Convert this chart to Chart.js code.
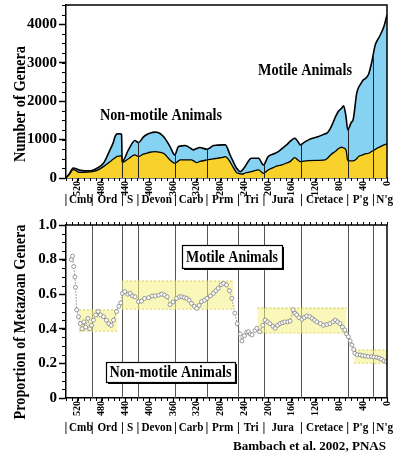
<!DOCTYPE html>
<html>
<head>
<meta charset="utf-8">
<script src="https://cdn.jsdelivr.net/npm/chart.js@4.4.0/dist/chart.umd.min.js"></script>
<style>
  html, body { margin: 0; padding: 0; background: #fff; }
  #wrap { position: relative; width: 398px; height: 454px; }
  #top { position: absolute; left: 0; top: 0; }
  #bot { position: absolute; left: 0; top: 215px; }
</style>
</head>
<body>
<div id="wrap">
  <canvas id="top" width="398" height="210"></canvas>
  <canvas id="bot" width="398" height="239"></canvas>
</div>
<script>
// ages in Ma
var ages = [540, 534, 528, 524, 518, 510, 500, 494, 485, 477, 466, 461, 457, 454, 449, 446.5, 445.5,
    435, 424, 418, 410, 404, 399, 390, 387, 376, 365, 357, 351, 348, 340, 329, 326, 320, 315, 303,
    292, 286, 275, 272, 264, 261, 253, 250, 247, 242, 239, 228, 216, 208, 200, 190, 183, 177, 169,
    163, 155, 150, 146, 140, 132, 115, 104, 101, 95, 90, 87, 82, 76, 73, 69, 66, 60, 57, 51, 48,
    45, 40, 37, 31, 26, 20, 17, 12, 5, 0];
var totalGenera = [0, 120, 260, 250, 205, 190, 185, 209, 280, 383, 731, 900, 1096, 1148, 1150, 1130, 426,
    731, 974, 922, 1062, 1130, 1166, 1192, 1190, 1079, 818, 600, 818, 830, 844, 760, 731, 770, 792, 749,
    844, 855, 861, 861, 600, 500, 253, 200, 165, 230, 295, 513, 513, 339, 556, 630, 687, 760, 861,
    950, 1035, 950, 861, 920, 992, 1079, 1150, 1166, 1300, 1470, 1580, 1731, 1820, 1880, 1600, 1253, 1450, 1514, 2200, 2350,
    2430, 2550, 2580, 2700, 2990, 3450, 3560, 3700, 3950, 4250];
var nonMotileGenera = [0, 100, 220, 200, 145, 150, 160, 170, 220, 295, 420, 487, 530, 560, 574, 580, 400,
    500, 600, 556, 620, 644, 670, 687, 680, 644, 470, 383, 440, 470, 470, 470, 450, 400, 430, 470,
    500, 513, 540, 556, 420, 339, 140, 122, 110, 104, 130, 165, 209, 122, 209, 280, 320, 339, 390,
    426, 530, 470, 426, 440, 452, 460, 470, 500, 600, 660, 687, 760, 800, 780, 730, 452, 444, 444, 500, 556,
    580, 610, 630, 644, 690, 740, 775, 810, 860, 887];

// lower panel: share of non-motile genera
var shareAges = [531, 529, 527, 525, 524, 522, 519, 516, 513, 510, 507, 503, 500, 497, 494, 490, 486, 482,
    477, 472, 468, 464, 460, 455, 451, 448, 445, 441, 436, 432, 428, 424, 418, 413, 408, 401, 395, 390,
    384, 379, 374, 370, 365, 360, 354, 349, 345, 341, 337, 333, 329, 324, 320, 316, 312, 307, 303, 297,
    292, 288, 284, 279, 275, 270, 265, 261, 256, 252, 247, 244, 240, 236, 233, 230, 227, 222, 219, 214,
    209, 205, 201, 197, 192, 188, 184, 180, 176, 172, 167, 163, 158, 155, 152, 148, 143, 139, 135, 130,
    126, 122, 118, 112, 107, 101, 96, 91, 87, 83, 79, 75, 71, 68, 65, 62, 59, 56, 54, 50, 45, 41, 37,
    32, 26, 22, 17, 13, 9, 5, 1];
var nonMotileShare = [0.80, 0.82, 0.76, 0.70, 0.64, 0.51, 0.47, 0.43, 0.40, 0.44, 0.41, 0.46, 0.40, 0.42, 0.45, 0.48, 0.50, 0.48,
    0.47, 0.45, 0.43, 0.42, 0.45, 0.50, 0.53, 0.55, 0.605, 0.615, 0.60, 0.605, 0.59, 0.585, 0.557, 0.56, 0.575, 0.58, 0.59, 0.59,
    0.595, 0.60, 0.595, 0.585, 0.54, 0.555, 0.576, 0.585, 0.585, 0.58, 0.576, 0.565, 0.547, 0.53, 0.518, 0.535, 0.557, 0.565, 0.576, 0.59,
    0.605, 0.62, 0.634, 0.655, 0.663, 0.653, 0.62, 0.576, 0.49, 0.43, 0.37, 0.33, 0.36, 0.38, 0.383, 0.37, 0.365, 0.39, 0.403, 0.383,
    0.42, 0.45, 0.44, 0.43, 0.415, 0.403, 0.42, 0.43, 0.435, 0.44, 0.44, 0.445, 0.51, 0.49, 0.48, 0.465, 0.455, 0.465, 0.474, 0.47,
    0.46, 0.45, 0.44, 0.43, 0.42, 0.425, 0.43, 0.44, 0.45, 0.44, 0.43, 0.41, 0.393, 0.37, 0.354, 0.33, 0.306, 0.28, 0.258, 0.25, 0.249, 0.245, 0.243,
    0.24, 0.239, 0.237, 0.235, 0.23, 0.224, 0.215, 0.21];

// shaded bands (Ma from, Ma to, low, high)
var bandFrom = [518, 446, 218, 55];
var bandTo = [454, 259, 68, 0];
var bandLow = [0.387, 0.514, 0.376, 0.202];
var bandHigh = [0.509, 0.676, 0.52, 0.277];

var ageTicks = [520, 480, 440, 400, 360, 320, 280, 240, 200, 160, 120, 80, 40, 0];
var genusTicks = [0, 1000, 2000, 3000, 4000];
var shareTicks = [0, 0.2, 0.4, 0.6, 0.8, 1.0];

var boundariesTop = [445, 419, 356, 303, 207, 144, 66, 23];
var boundariesBottom = [496, 445, 419, 356, 303, 250, 207, 144, 66, 23];
var periodNames = ['Cmb', 'Ord', 'S', 'Devon', 'Carb', 'Prm', 'Tri', 'Jura', 'Cretace', "P'g", "N'g"];
var periodEdges = [540, 496, 445, 419, 356, 303, 250, 207, 144, 66, 23, 0];

var SERIF = '"Liberation Serif", "Times New Roman", serif';

function pts(xs, ys) {
    var out = [];
    for (var i = 0; i < xs.length; i++) {
        out.push({ x: xs[i], y: ys[i] });
    }
    return out;
}

function valueAt(xs, ys, age) {
    for (var i = 0; i < xs.length - 1; i++) {
        if (age <= xs[i] && age >= xs[i + 1]) {
            var t = (xs[i] - age) / (xs[i] - xs[i + 1]);
            return ys[i] + t * (ys[i + 1] - ys[i]);
        }
    }
    return 0;
}

// draw text squeezed horizontally (sx) or fitted to a width
function drawText(ctx, txt, x, y, font, align, sx) {
    ctx.save();
    ctx.font = font;
    ctx.fillStyle = '#000';
    ctx.textBaseline = 'middle';
    ctx.textAlign = align;
    ctx.translate(x, y);
    ctx.scale(sx, 1);
    ctx.fillText(txt, 0, 0);
    ctx.restore();
}

function fitText(ctx, txt, x, y, w, font, align) {
    ctx.save();
    ctx.font = font;
    var m = ctx.measureText(txt).width;
    ctx.restore();
    drawText(ctx, txt, x, y, font, align, w / m);
}

function vTitle(ctx, txt, x, y, h, font) {
    ctx.save();
    ctx.font = font;
    var m = ctx.measureText(txt).width;
    ctx.translate(x, y);
    ctx.rotate(-Math.PI / 2);
    ctx.scale(h / m, 1);
    ctx.fillStyle = '#000';
    ctx.textAlign = 'center';
    ctx.textBaseline = 'middle';
    ctx.fillText(txt, 0, 0);
    ctx.restore();
}

function periodRow(chart, yPos) {
    var ctx = chart.ctx, x = chart.scales.x;
    var font = 'bold 13px ' + SERIF;
    ctx.save();
    ctx.font = font;
    for (var i = 0; i < periodNames.length; i++) {
        var l = x.getPixelForValue(periodEdges[i]);
        var r = x.getPixelForValue(periodEdges[i + 1]);
        drawText(ctx, '|', l, yPos, font, 'center', 1);
        var w = ctx.measureText(periodNames[i]).width * 0.86;
        var c = Math.max((l + r) / 2, l + 3 + w / 2);
        drawText(ctx, periodNames[i], c, yPos, font, 'center', 0.86);
    }
    ctx.restore();
}

function minorTicks(chart, yStep, yMax, topTicks) {
    var ctx = chart.ctx, x = chart.scales.x, y = chart.scales.y, a = chart.chartArea;
    ctx.save();
    ctx.strokeStyle = '#000';
    ctx.lineWidth = 1;
    ctx.beginPath();
    for (var t = 0; t <= 540; t += 10) {
        var px = Math.round(x.getPixelForValue(t)) + 0.5;
        ctx.moveTo(px, a.bottom);
        ctx.lineTo(px, a.bottom + 3);
        if (topTicks) {
            ctx.moveTo(px, a.top);
            ctx.lineTo(px, a.top - 3);
        }
    }
    for (var v = 0; v <= yMax + 1e-9; v += yStep) {
        var py = Math.round(y.getPixelForValue(v)) + 0.5;
        ctx.moveTo(a.left, py);
        ctx.lineTo(a.left - 4, py);
    }
    ctx.stroke();
    // frame on top and right
    ctx.lineWidth = 1.5;
    ctx.beginPath();
    ctx.moveTo(a.left, a.top);
    ctx.lineTo(a.right, a.top);
    ctx.lineTo(a.right, a.bottom);
    ctx.stroke();
    ctx.restore();
}

function axisX(h) {
    return {
        type: 'linear', min: 0, max: 540, reverse: true,
        afterBuildTicks: function (s) { s.ticks = ageTicks.map(function (v) { return { value: v }; }); },
        ticks: { autoSkip: false, minRotation: 90, maxRotation: 90, padding: -1, color: '#000',
                 font: { family: SERIF, weight: 'bold', size: 10 } },
        grid: { drawOnChartArea: false, tickLength: 4, tickColor: '#000', tickWidth: 1.2 },
        border: { color: '#000', width: 1.5 },
        afterFit: function (s) { s.height = h; s.paddingLeft = 0; s.paddingRight = 0; }
    };
}

function axisY(min, max, list, cb) {
    return {
        min: min, max: max,
        afterBuildTicks: function (s) { s.ticks = list.map(function (v) { return { value: v }; }); },
        ticks: { padding: 2, color: '#000', font: { family: SERIF, weight: 'bold', size: 15 }, callback: cb },
        grid: { drawOnChartArea: false, tickLength: 7, tickColor: '#000', tickWidth: 1.5 },
        border: { color: '#000', width: 1.5 },
        afterFit: function (s) { s.width = 66; s.paddingTop = 0; s.paddingBottom = 0; }
    };
}

var topDecor = {
    id: 'topDecor',
    afterDatasetsDraw: function (chart) {
        var ctx = chart.ctx, x = chart.scales.x, y = chart.scales.y;
        ctx.save();
        ctx.strokeStyle = '#222';
        ctx.lineWidth = 1;
        boundariesTop.forEach(function (age) {
            var px = Math.round(x.getPixelForValue(age)) + 0.5;
            ctx.beginPath();
            ctx.moveTo(px, y.getPixelForValue(0));
            ctx.lineTo(px, y.getPixelForValue(valueAt(ages, totalGenera, age)));
            ctx.stroke();
        });
        ctx.restore();
    },
    afterDraw: function (chart) {
        var ctx = chart.ctx;
        minorTicks(chart, 250, 4500, false);
        periodRow(chart, 200);
        vTitle(ctx, 'Number of Genera', 21, 104, 116, 'bold 17px ' + SERIF);
        fitText(ctx, 'Non-motile Animals', 161, 116, 122, 'bold 17px ' + SERIF, 'center');
        fitText(ctx, 'Motile Animals', 305, 71, 94, 'bold 17px ' + SERIF, 'center');
    }
};

var botDecor = {
    id: 'botDecor',
    beforeDatasetsDraw: function (chart) {
        var ctx = chart.ctx, x = chart.scales.x, a = chart.chartArea;
        ctx.save();
        ctx.strokeStyle = '#555';
        ctx.lineWidth = 1;
        boundariesBottom.forEach(function (age) {
            var px = Math.round(x.getPixelForValue(age)) + 0.5;
            ctx.beginPath();
            ctx.moveTo(px, a.bottom);
            ctx.lineTo(px, a.top);
            ctx.stroke();
        });
        ctx.restore();
    },
    afterDraw: function (chart) {
        var ctx = chart.ctx;
        minorTicks(chart, 0.05, 1, true);
        periodRow(chart, 213);
        vTitle(ctx, 'Proportion of Metazoan Genera', 21, 107, 195, 'bold 17px ' + SERIF);
        var boxes = [[182, 30, 100, 23, 'Motile Animals', 92], [106, 147, 129, 20, 'Non-motile Animals', 122]];
        boxes.forEach(function (b) {
            ctx.save();
            ctx.fillStyle = '#000';
            ctx.fillRect(b[0] + 2, b[1] + 2, b[2], b[3]);
            ctx.fillStyle = '#fff';
            ctx.fillRect(b[0], b[1], b[2], b[3]);
            ctx.strokeStyle = '#000';
            ctx.lineWidth = 1.2;
            ctx.strokeRect(b[0] + 0.5, b[1] + 0.5, b[2], b[3]);
            ctx.restore();
            fitText(ctx, b[4], b[0] + b[2] / 2, b[1] + b[3] / 2 + 1, b[5], 'bold 17px ' + SERIF, 'center');
        });
        fitText(ctx, 'Bambach et al. 2002, PNAS', 386, 232, 153, 'bold 13px ' + SERIF, 'right');
    }
};

var common = {
    responsive: false,
    animation: false,
    events: [],
    plugins: { legend: { display: false }, tooltip: { enabled: false } }
};

new Chart(document.getElementById('top'), {
    type: 'line',
    data: {
        datasets: [
            { label: 'Non-motile', data: pts(ages, nonMotileGenera), borderColor: '#000', borderWidth: 1.3,
              backgroundColor: '#f8d22a', fill: 'origin', pointRadius: 0, cubicInterpolationMode: 'monotone' },
            { label: 'Total', data: pts(ages, totalGenera), borderColor: '#000', borderWidth: 1.6,
              backgroundColor: '#86d2f2', fill: 'origin', pointRadius: 0, cubicInterpolationMode: 'monotone' }
        ]
    },
    options: Object.assign({}, common, {
        layout: { padding: { top: 5, right: 11, bottom: 12, left: 0 } },
        scales: {
            x: axisX(20),
            y: axisY(0, 4500, genusTicks, function (v) { return v; })
        }
    }),
    plugins: [topDecor]
});

var botSets = [{
    label: 'Non-motile share', data: pts(shareAges, nonMotileShare), order: 0,
    borderColor: '#8c8c8c', borderWidth: 1, borderDash: [1.5, 1.5],
    pointRadius: 2, pointBorderColor: '#808080', pointBorderWidth: 0.8, pointBackgroundColor: '#fff',
    fill: false
}];
for (var i = 0; i < bandFrom.length; i++) {
    botSets.push({
        data: [{ x: bandFrom[i], y: bandHigh[i] }, { x: bandTo[i], y: bandHigh[i] }], order: 1,
        borderColor: '#cfc64a', borderWidth: 1, borderDash: [2, 2], pointRadius: 0,
        backgroundColor: 'rgba(246,240,130,0.55)', fill: '+1'
    });
    botSets.push({
        data: [{ x: bandFrom[i], y: bandLow[i] }, { x: bandTo[i], y: bandLow[i] }], order: 1,
        borderColor: '#cfc64a', borderWidth: 1, borderDash: [2, 2], pointRadius: 0, fill: false
    });
}

new Chart(document.getElementById('bot'), {
    type: 'line',
    data: { datasets: botSets },
    options: Object.assign({}, common, {
        layout: { padding: { top: 10, right: 11, bottom: 36, left: 0 } },
        scales: {
            x: axisX(20),
            y: axisY(0, 1, shareTicks, function (v) { return v === 0 ? '0' : v.toFixed(1); })
        }
    }),
    plugins: [botDecor]
});
</script>
</body>
</html>
